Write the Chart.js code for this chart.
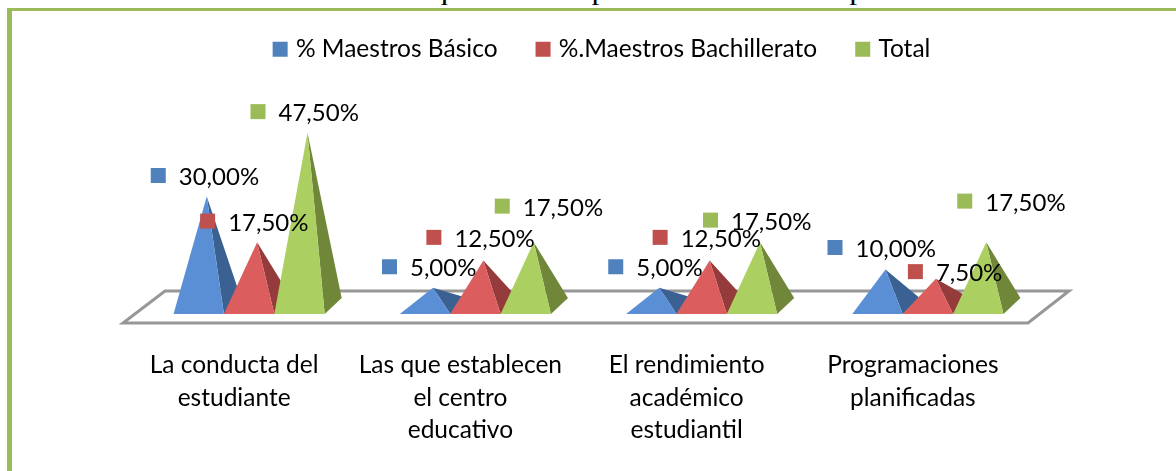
<!DOCTYPE html>
<html lang="es">
<head>
<meta charset="utf-8">
<style>
html,body{margin:0;padding:0;background:#fff;width:1176px;height:471px;overflow:hidden}
#frame{position:absolute;left:7px;top:8px;width:1169px;height:463px;box-sizing:border-box;border-top:3px solid #9BBB59;border-left:5px solid #9BBB59}
#caption{position:absolute;right:204px;top:-19px;font:22px/24px "Liberation Serif",serif;white-space:nowrap;color:#000;transform:scaleX(1.45);transform-origin:right top}
canvas{position:absolute;left:0;top:0}
</style>
</head>
<body>
<div id="caption">Gráfico 14: La frecuencia con la que ve a los padres de familia depende de:</div>
<div id="frame"></div>
<canvas id="c" width="1176" height="471"></canvas>
<script src="https://cdn.jsdelivr.net/npm/chart.js@4/dist/chart.umd.min.js"></script>
<script>
const categories = [
  ['La conducta del', 'estudiante'],
  ['Las que establecen', 'el centro', 'educativo'],
  ['El rendimiento', 'académico', 'estudiantil'],
  ['Programaciones', 'planificadas']
];
const seriesNames = ['% Maestros Básico', '%.Maestros Bachillerato', 'Total'];
const basico = [30, 5, 5, 10];
const bachillerato = [17.5, 12.5, 12.5, 7.5];
const total = [47.5, 17.5, 17.5, 17.5];

const legendColors = ['#4F81BD', '#C0504D', '#9BBB59'];
const frontColors = ['#5A8FD5', '#DC5D5D', '#ABCF60'];
const sideColors = ['#3B6192', '#963B3B', '#70873A'];
const FONT = 'Lato, "Open Sans", sans-serif';

/* moved data labels, per series then per category: [dx, dy] */
const labelNudges = [
  [[1, 0], [6, 0], [6, 0], [-1, -1]],
  [[0, 0], [0, -2], [0, -2], [29, 14]],
  [[0, 0], [18, -15], [0, -1], [28, -20]]
];

const pyramidPlugin = {
  id: 'pyramids',
  afterLayout(chart) {
    const lg = chart.legend;
    lg.left += 28; lg.right += 28;
    const h = lg.bottom - lg.top;
    lg.top = -5; lg.bottom = h - 5;
  },
  beforeDatasetsDraw(chart) {
    const { ctx, chartArea: a } = chart;
    const y0 = a.bottom;
    // floor
    ctx.save();
    ctx.beginPath();
    ctx.moveTo(a.left, y0 + 17);
    ctx.lineTo(a.right, y0 + 17);
    ctx.lineTo(a.right + 41, y0 - 15);
    ctx.lineTo(a.left + 42, y0 - 15);
    ctx.closePath();
    ctx.fillStyle = '#fff';
    ctx.fill();
    ctx.lineWidth = 3;
    ctx.strokeStyle = '#979797';
    ctx.lineJoin = 'miter';
    ctx.stroke();
    // pyramids, back series first
    chart.data.datasets.forEach((ds, i) => {
      chart.getDatasetMeta(i).data.forEach(bar => {
        const w = bar.width;
        const fl = bar.x - w / 2 + 13, fr = bar.x + w / 2 + 13, ax = bar.x + 21;
        ctx.beginPath();
        ctx.moveTo(fr, y0 + 8);
        ctx.lineTo(fr + 17, y0 - 8);
        ctx.lineTo(ax, bar.y);
        ctx.closePath();
        ctx.fillStyle = sideColors[i];
        ctx.fill();
        ctx.beginPath();
        ctx.moveTo(fl, y0 + 8);
        ctx.lineTo(fr, y0 + 8);
        ctx.lineTo(ax, bar.y);
        ctx.closePath();
        ctx.fillStyle = frontColors[i];
        ctx.fill();
      });
    });
    // value labels
    ctx.font = '24px ' + FONT;
    ctx.textBaseline = 'middle';
    ctx.textAlign = 'left';
    chart.data.datasets.forEach((ds, i) => {
      chart.getDatasetMeta(i).data.forEach((bar, j) => {
        const [dx, dy] = labelNudges[i][j];
        const sx = bar.x + 21 - 57 + dx, sy = bar.y - 21 + dy;
        ctx.fillStyle = legendColors[i];
        ctx.fillRect(sx, sy - 7.5, 15, 15);
        ctx.fillStyle = '#000';
        ctx.fillText(ds.data[j].toFixed(2).replace('.', ',') + '%', sx + 28, sy + 2);
      });
    });
    ctx.restore();
    return false;
  }
};

new Chart(document.getElementById('c'), {
  type: 'bar',
  data: {
    labels: categories,
    datasets: [
      { label: seriesNames[0], data: basico, backgroundColor: legendColors[0] },
      { label: seriesNames[1], data: bachillerato, backgroundColor: legendColors[1] },
      { label: seriesNames[2], data: total, backgroundColor: legendColors[2] }
    ]
  },
  options: {
    responsive: false,
    animation: false,
    layout: { padding: { left: 123, right: 148, top: 47, bottom: 0 } },
    datasets: { bar: { categoryPercentage: 0.668, barPercentage: 1 } },
    plugins: {
      tooltip: { enabled: false },
      legend: {
        position: 'top',
        align: 'center',
        labels: {
          usePointStyle: true,
          pointStyle: 'rect',
          boxWidth: 7,
          boxHeight: 15,
          padding: 42,
          color: '#000',
          font: { family: FONT, size: 24.5 }
        }
      }
    },
    scales: {
      x: {
        border: { display: false },
        grid: { display: false },
        afterFit(s) { s.height = 165; },
        ticks: {
          autoSkip: false,
          maxRotation: 0,
          minRotation: 0,
          padding: 35,
          labelOffset: -2,
          color: '#000',
          font: { family: FONT, size: 24.5, lineHeight: 1.33 }
        }
      },
      y: { display: false, min: 0, max: 50 }
    }
  },
  plugins: [pyramidPlugin]
});
</script>
</body>
</html>
